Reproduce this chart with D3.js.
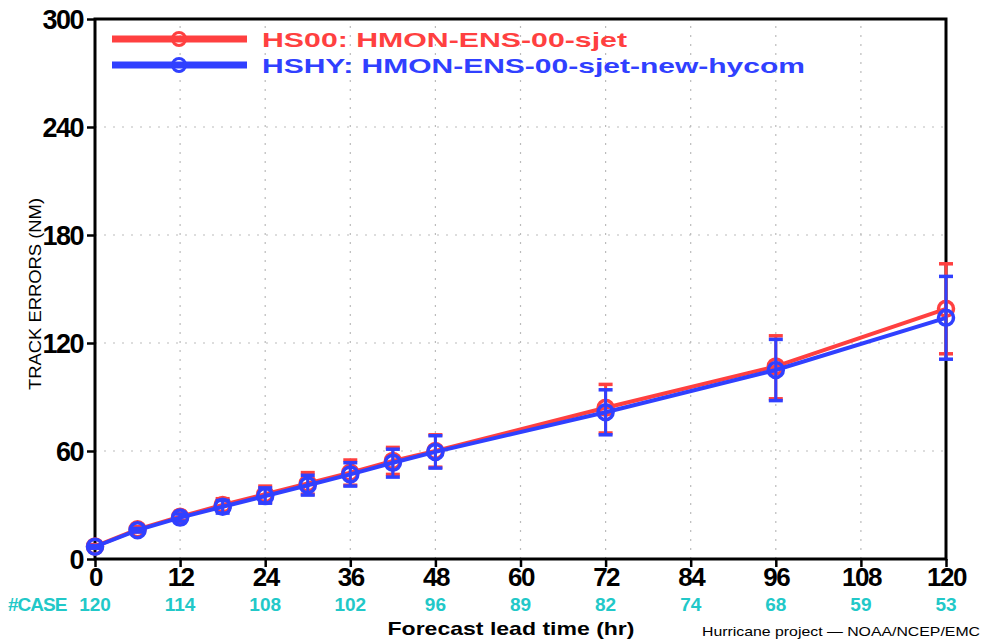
<!DOCTYPE html>
<html><head><meta charset="utf-8">
<script src="https://cdn.jsdelivr.net/npm/d3@7"></script>
<style>body{margin:0;background:#fff}svg{display:block}</style>
</head><body>
<script>
const leads = [0,6,12,18,24,30,36,42,48,72,96,120];
const hs00 = [7.0,16.5,23.5,30,36,42,48,54.5,60,84,107,139];
const hs00Lo = [6,15,21.5,26.5,31.5,36,41,47,51,70,89,114];
const hs00Hi = [8,18,25.5,33.5,40.5,48,55,62,69,97,124,164];
const hshy = [6.8,16,23,29,35,41,47,53.5,59.5,81.5,105,134];
const hshyLo = [6,15,21,25.5,31,35.5,40.5,45.5,50.5,69,88,111];
const hshyHi = [7.5,17,25,32.5,39.5,46.5,53.5,61,68.5,94,122,157];
const xTicks = [0,12,24,36,48,60,72,84,96,108,120];
const caseCounts = [120,114,108,102,96,89,82,74,68,59,53];
const yTicks = [0,60,120,180,240,300];
const seriesNames = ["HS00: HMON-ENS-00-sjet","HSHY: HMON-ENS-00-sjet-new-hycom"];
const seriesColors = ["#ff4040","#3040ff"];

const W=984,H=643;
const svg=d3.select("body").append("svg").attr("width",W).attr("height",H);
const x=d3.scaleLinear().domain([0,120]).range([95,946]);
const y=d3.scaleLinear().domain([0,300]).range([559,19]);
const font="'Liberation Sans', Arial, sans-serif";

// grid
const g=svg.append("g");
g.selectAll(".vg").data(xTicks.slice(1,-1)).join("line")
 .attr("x1",d=>x(d)).attr("x2",d=>x(d)).attr("y1",y(0)).attr("y2",y(300))
 .attr("stroke","#bbb").attr("stroke-width",1.2).attr("stroke-dasharray","2,7");
g.selectAll(".hg").data(yTicks.slice(1,-1)).join("line")
 .attr("y1",d=>y(d)).attr("y2",d=>y(d)).attr("x1",x(0)).attr("x2",x(120))
 .attr("stroke","#bbb").attr("stroke-width",1.2).attr("stroke-dasharray","2,7");

// axes
const yAxis=d3.axisLeft(y).tickValues(yTicks).tickSize(8).tickPadding(4);
const ya=svg.append("g").attr("transform",`translate(${x(0)},0)`).call(yAxis);
ya.select(".domain").remove();
ya.selectAll("line").attr("stroke","#000").attr("stroke-width",2.5);
ya.selectAll("text").attr("font-family",font).attr("font-weight","bold").attr("font-size",27)
  .attr("letter-spacing","-1.5px").attr("fill","#000").attr("dy","0.36em");

const xAxis=d3.axisBottom(x).tickValues(xTicks).tickSize(8).tickPadding(1);
const xa=svg.append("g").attr("transform",`translate(0,${y(0)})`).call(xAxis);
xa.select(".domain").remove();
xa.selectAll("line").attr("stroke","#000").attr("stroke-width",2.5);
xa.selectAll("text").attr("font-family",font).attr("font-weight","bold").attr("font-size",26)
  .attr("letter-spacing","-1.5px").attr("fill","#000");

// frame
svg.append("rect").attr("x",x(0)).attr("y",y(300)).attr("width",x(120)-x(0)).attr("height",y(0)-y(300))
 .attr("fill","none").attr("stroke","#000").attr("stroke-width",3);

// case counts
svg.append("text").attr("x",8).attr("y",611).attr("font-family",font).attr("font-weight","bold")
 .attr("font-size",19).attr("fill","#22c8c8").attr("letter-spacing","-1px").text("#CASE");
svg.selectAll(".cc").data(caseCounts).join("text")
 .attr("x",(d,i)=>x(xTicks[i])).attr("y",611).attr("text-anchor","middle")
 .attr("font-family",font).attr("font-weight","bold").attr("font-size",19)
 .attr("fill","#22c8c8").text(d=>d);

// titles
svg.append("text").attr("x",511).attr("y",635).attr("text-anchor","middle")
 .attr("font-family",font).attr("font-weight","bold").attr("font-size",19)
 .attr("textLength",247).attr("lengthAdjust","spacingAndGlyphs").text("Forecast lead time (hr)");
svg.append("text").attr("x",702).attr("y",636)
 .attr("font-family",font).attr("font-size",13)
 .attr("textLength",278).attr("lengthAdjust","spacingAndGlyphs").text("Hurricane project \u2014 NOAA/NCEP/EMC");
svg.append("text").attr("transform","translate(41,294) rotate(-90)").attr("text-anchor","middle")
 .attr("font-family",font).attr("font-size",16)
 .attr("textLength",192).attr("lengthAdjust","spacingAndGlyphs").text("TRACK ERRORS (NM)");

// series
const series=[{v:hs00,lo:hs00Lo,hi:hs00Hi},{v:hshy,lo:hshyLo,hi:hshyHi}];
const line=d3.line().x(d=>x(d[0])).y(d=>y(d[1]));
series.forEach((s,k)=>{
  const c=seriesColors[k];
  const sg=svg.append("g");
  sg.append("path").datum(leads.map((l,i)=>[l,s.v[i]])).attr("d",line)
    .attr("fill","none").attr("stroke",c).attr("stroke-width",4);
  leads.forEach((l,i)=>{
    const cx=x(l);
    sg.append("line").attr("x1",cx).attr("x2",cx).attr("y1",y(s.lo[i])).attr("y2",y(s.hi[i]))
      .attr("stroke",c).attr("stroke-width",3);
    [s.lo[i],s.hi[i]].forEach(v=>sg.append("line").attr("x1",cx-7).attr("x2",cx+7)
      .attr("y1",y(v)).attr("y2",y(v)).attr("stroke",c).attr("stroke-width",3.5));
    sg.append("circle").attr("cx",cx).attr("cy",y(s.v[i])).attr("r",7.5)
      .attr("fill","none").attr("stroke",c).attr("stroke-width",3.5);
  });
});

// legend
seriesNames.forEach((n,k)=>{
  const ly=39+k*26, c=seriesColors[k];
  svg.append("line").attr("x1",112).attr("x2",247).attr("y1",ly).attr("y2",ly)
    .attr("stroke",c).attr("stroke-width",7);
  svg.append("circle").attr("cx",179).attr("cy",ly).attr("r",6.5).attr("fill","none")
    .attr("stroke",c).attr("stroke-width",3);
  svg.append("text").attr("x",262).attr("y",ly+8).attr("font-family",font).attr("font-weight","bold")
    .attr("font-size",21).attr("fill",c)
    .attr("textLength",k?543:365).attr("lengthAdjust","spacingAndGlyphs").text(n);
});
</script>
</body></html>
